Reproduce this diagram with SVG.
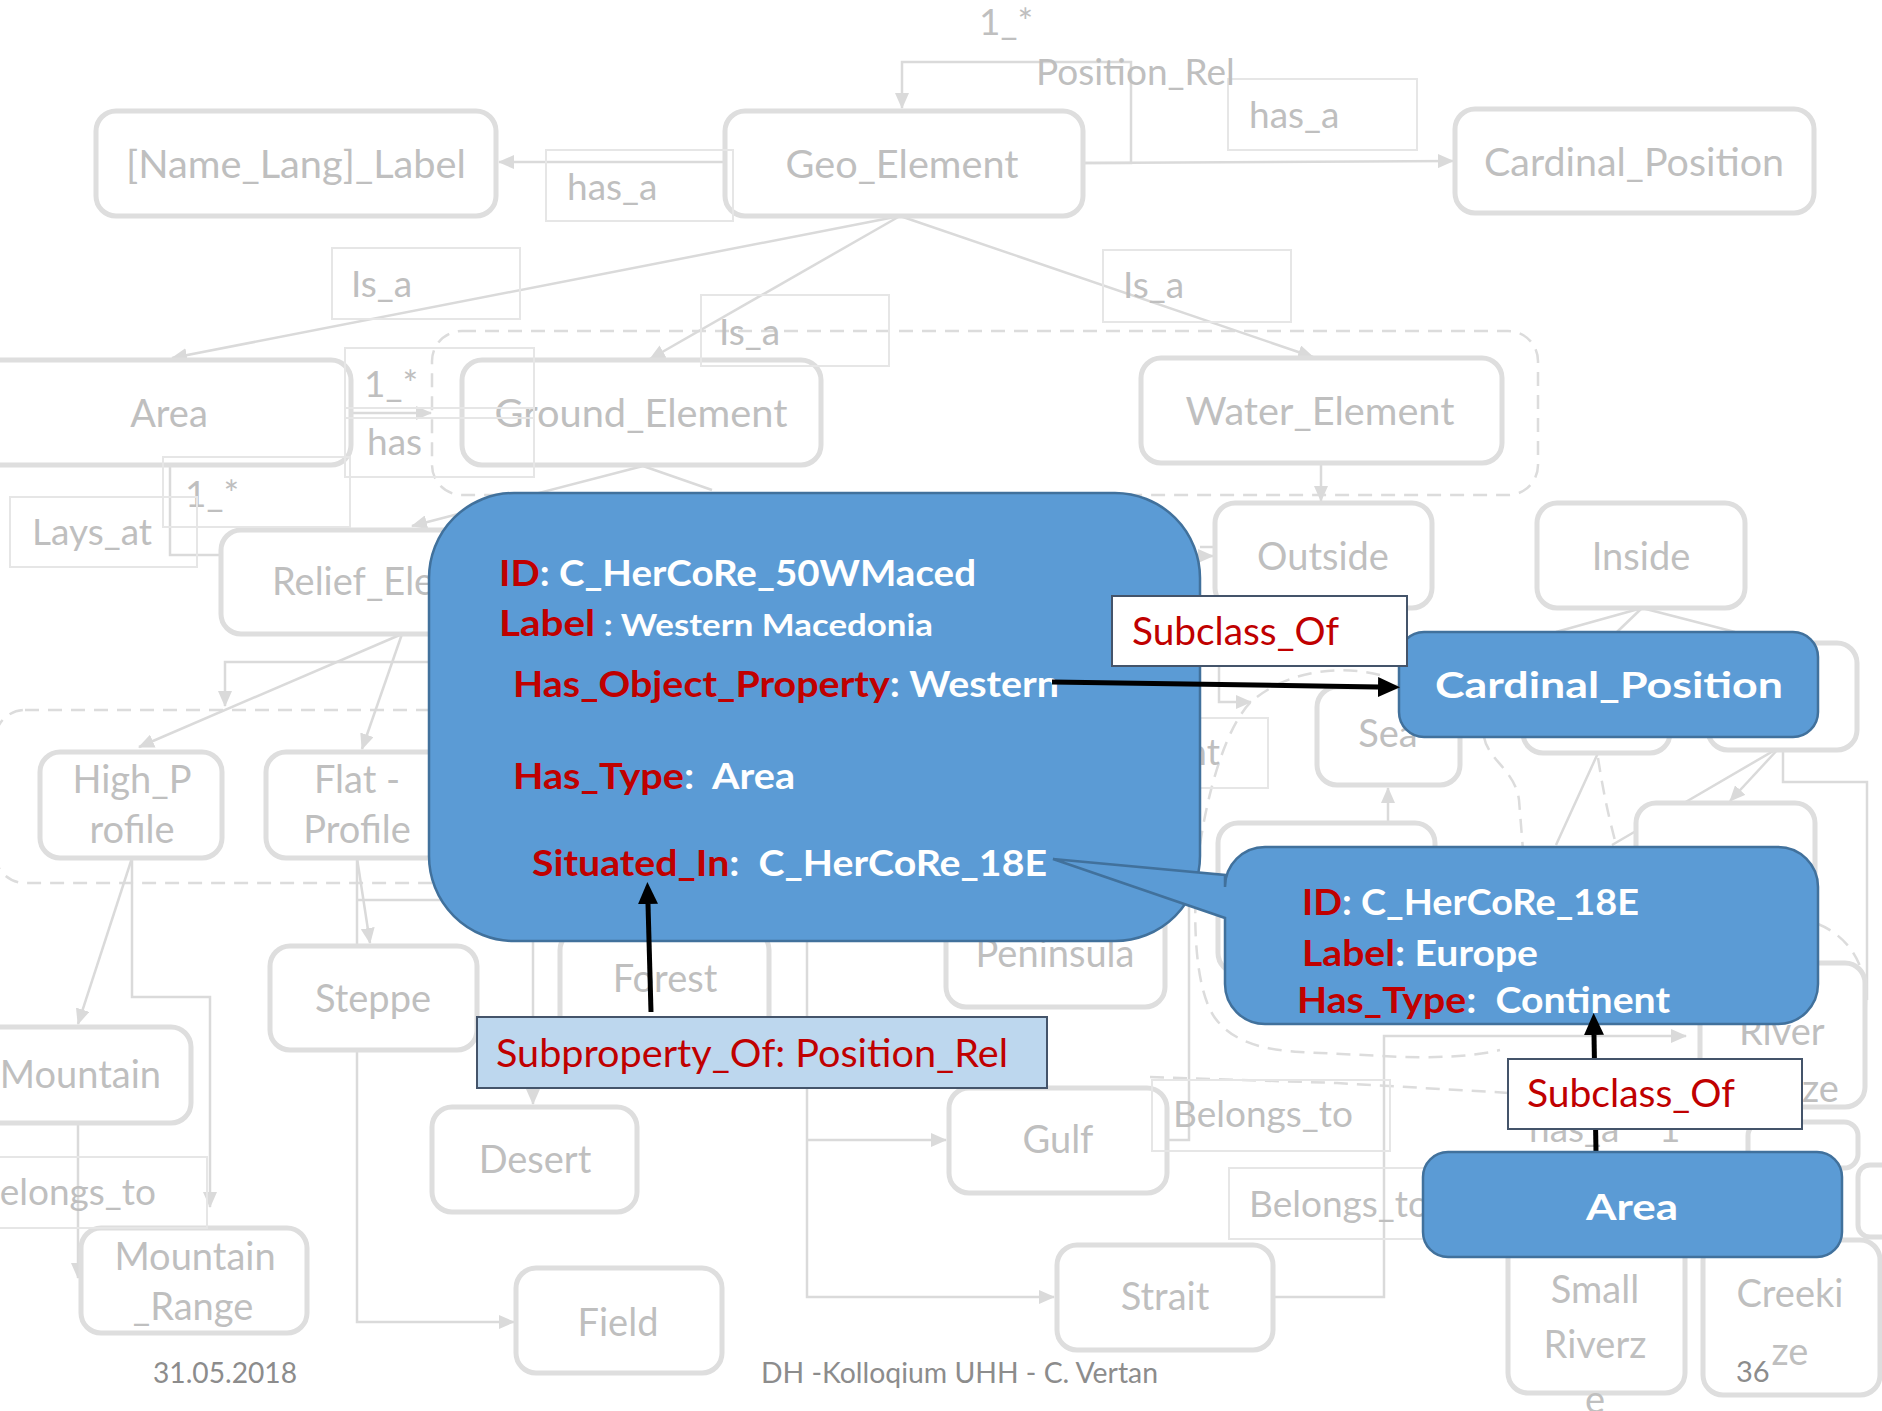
<svg xmlns="http://www.w3.org/2000/svg" width="1882" height="1411" viewBox="0 0 1882 1411">
<defs>
<style>
.n{fill:#fff;stroke:#dedede;stroke-width:5}
.nt{font-family:Lato,'Liberation Sans',sans-serif;font-size:38px;fill:#bfbfbf;text-anchor:middle}
.ns{font-family:Lato,'Liberation Sans',sans-serif;font-size:38px;fill:#bfbfbf}
.lb{fill:none;stroke:#e6e6e6;stroke-width:2}
.lt{font-family:Lato,'Liberation Sans',sans-serif;font-size:37px;fill:#bfbfbf}
.c{fill:none;stroke:#dadada;stroke-width:2.5}
.d{fill:none;stroke:#dcdcdc;stroke-width:2.5;stroke-dasharray:14 9}
.ft{font-family:Lato,'Liberation Sans',sans-serif;font-size:29px;fill:#8c8c8c}
.blue{fill:#5B9BD5;stroke:#41719C;stroke-width:2.5}
.bt{font-family:Lato,'Liberation Sans',sans-serif;font-weight:bold;font-size:36px;fill:#fff;white-space:pre}
.red{fill:#C00000}
.k{fill:none;stroke:#000;stroke-width:5}
.box{fill:#fff;stroke:#44546A;stroke-width:2}
.rt{font-family:Lato,'Liberation Sans',sans-serif;font-size:38px;fill:#C00000}
</style>
<marker id="ga" markerUnits="userSpaceOnUse" markerWidth="16" markerHeight="14" viewBox="0 0 16 14" refX="15" refY="7" orient="auto"><path d="M0 0 L16 7 L0 14 Z" fill="#dadada"/></marker>
<marker id="ka" markerUnits="userSpaceOnUse" markerWidth="22" markerHeight="20" viewBox="0 0 22 20" refX="0" refY="10" orient="auto"><path d="M0 0 L22 10 L0 20 Z" fill="#000"/></marker>
</defs>
<rect x="0" y="0" width="1882" height="1411" fill="#fff"/>

<g id="containers">
<rect class="d" x="432" y="331" width="1106" height="164" rx="30"/>
<rect class="d" x="-5" y="710" width="505" height="173" rx="30"/>
<path class="d" d="M1380 675 C1340 665 1290 670 1253 700 C1225 725 1205 800 1198 860 C1192 920 1195 990 1215 1018 C1235 1045 1270 1050 1300 1052 L1404 1057 C1450 1058 1480 1055 1500 1050"/>
<path class="d" d="M1150 1077 L1337 1083 L1510 1093"/>
<path class="d" d="M1484 737 C1488 760 1515 770 1519 800 L1523 850"/>
<path class="d" d="M1598 758 C1603 790 1608 815 1617 848"/>
<path class="d" d="M1818 924 C1845 935 1866 960 1866 1000 L1864 1075 C1862 1090 1855 1098 1840 1104"/>
</g>

<g id="connectors">
<path class="c" d="M1083 163 H1131 V62 H902 V108" marker-end="url(#ga)"/>
<path class="c" d="M1083 163 L1453 161" marker-end="url(#ga)"/>
<path class="c" d="M725 162 H499" marker-end="url(#ga)"/>
<path class="c" d="M900 216 L172 358" marker-end="url(#ga)"/>
<path class="c" d="M900 216 L650 359" marker-end="url(#ga)"/>
<path class="c" d="M900 216 L1313 357" marker-end="url(#ga)"/>
<path class="c" d="M351 413 H431" marker-end="url(#ga)"/>
<path class="c" d="M643 466 L412 526" marker-end="url(#ga)"/>
<path class="c" d="M643 466 L712 490"/>
<path class="c" d="M170 467 V555 H230"/>
<path class="c" d="M402 634 L139 747" marker-end="url(#ga)"/>
<path class="c" d="M402 634 L362 749" marker-end="url(#ga)"/>
<path class="c" d="M440 662 H225 V706" marker-end="url(#ga)"/>
<path class="c" d="M132 858 L78 1024" marker-end="url(#ga)"/>
<path class="c" d="M132 858 V997 H210 V1207" marker-end="url(#ga)"/>
<path class="c" d="M78 1123 V1278" marker-end="url(#ga)"/>
<path class="c" d="M357 858 L370 943" marker-end="url(#ga)"/>
<path class="c" d="M357 858 V1322 H514" marker-end="url(#ga)"/>
<path class="c" d="M357 900 H533 V1104" marker-end="url(#ga)"/>
<path class="c" d="M807 930 V1297 H1054" marker-end="url(#ga)"/>
<path class="c" d="M807 1140 H946" marker-end="url(#ga)"/>
<path class="c" d="M1134 953 H1167"/>
<path class="c" d="M1167 1140 H1189 V900"/>
<path class="c" d="M1273 1297 H1384 V1036 H1686" marker-end="url(#ga)"/>
<path class="c" d="M1388 845 V788" marker-end="url(#ga)"/>
<path class="c" d="M1321 463 V501" marker-end="url(#ga)"/>
<path class="c" d="M1190 556 H1213" marker-end="url(#ga)"/>
<path class="c" d="M1200 547 H1219 V702 H1251" marker-end="url(#ga)"/>
<path class="c" d="M1642 608 L1556 632 M1642 608 L1617 632 M1642 608 L1735 632"/>
<path class="c" d="M1598 753 L1556 845 M1780 747 L1612 845"/>
<path class="c" d="M1780 747 L1730 801" marker-end="url(#ga)"/>
<path class="c" d="M1783 747 V782 H1867 V1000"/>
</g>

<g id="node-name-label"><rect class="n" x="96" y="111" width="400" height="105" rx="20"/><text class="nt" x="296" y="178" textLength="340" lengthAdjust="spacingAndGlyphs">[Name_Lang]_Label</text></g>
<g id="node-geo-element"><rect class="n" x="725" y="111" width="358" height="105" rx="20"/><text class="nt" x="902" y="178" textLength="233" lengthAdjust="spacingAndGlyphs">Geo_Element</text></g>
<g id="node-cardinal-gray"><rect class="n" x="1455" y="109" width="359" height="104" rx="20"/><text class="nt" x="1634" y="176" textLength="300" lengthAdjust="spacingAndGlyphs">Cardinal_Position</text></g>
<g id="node-area-gray"><rect class="n" x="-20" y="360" width="371" height="105" rx="20"/><text class="nt" x="169" y="427">Area</text></g>
<g id="node-ground"><rect class="n" x="462" y="360" width="359" height="105" rx="20"/><text class="nt" x="641" y="427" textLength="293" lengthAdjust="spacingAndGlyphs">Ground_Element</text></g>
<g id="node-water"><rect class="n" x="1141" y="358" width="361" height="105" rx="20"/><text class="nt" x="1320" y="425" textLength="269" lengthAdjust="spacingAndGlyphs">Water_Element</text></g>
<g id="node-outside"><rect class="n" x="1215" y="503" width="217" height="105" rx="20"/><text class="nt" x="1323" y="570">Outside</text></g>
<g id="node-inside"><rect class="n" x="1537" y="503" width="208" height="105" rx="20"/><text class="nt" x="1641" y="570">Inside</text></g>
<g id="node-relief"><rect class="n" x="221" y="530" width="340" height="104" rx="20"/><text class="ns" x="272" y="595" font-size="36">Relief_Ele</text></g>
<g id="node-high"><rect class="n" x="40" y="752" width="182" height="106" rx="20"/><text class="nt" x="132" y="793">High_P</text><text class="nt" x="132" y="843">rofile</text></g>
<g id="node-flat"><rect class="n" x="266" y="752" width="210" height="106" rx="20"/><text class="nt" x="357" y="793">Flat -</text><text class="nt" x="357" y="843">Profile</text></g>
<g id="node-mountain"><rect class="n" x="-20" y="1027" width="211" height="96" rx="20"/><text class="nt" x="161" y="1088" style="text-anchor:end">Mountain</text></g>
<g id="node-mountain-range"><rect class="n" x="81" y="1228" width="226" height="105" rx="20"/><text class="nt" x="195" y="1270">Mountain</text><text class="nt" x="193" y="1320">_Range</text></g>
<g id="node-steppe"><rect class="n" x="270" y="946" width="207" height="104" rx="20"/><text class="nt" x="373" y="1012">Steppe</text></g>
<g id="node-desert"><rect class="n" x="432" y="1107" width="205" height="105" rx="20"/><text class="nt" x="535" y="1173">Desert</text></g>
<g id="node-field"><rect class="n" x="516" y="1268" width="206" height="105" rx="20"/><text class="nt" x="618" y="1336">Field</text></g>
<g id="node-forest"><rect class="n" x="560" y="930" width="209" height="125" rx="20"/><text class="nt" x="665" y="992">Forest</text></g>
<g id="node-peninsula"><rect class="n" x="946" y="900" width="219" height="107" rx="20"/><text class="nt" x="1055" y="967">Peninsula</text></g>
<g id="node-gulf"><rect class="n" x="949" y="1088" width="218" height="105" rx="20"/><text class="nt" x="1058" y="1153">Gulf</text></g>
<g id="node-strait"><rect class="n" x="1057" y="1245" width="216" height="105" rx="20"/><text class="nt" x="1165" y="1310">Strait</text></g>
<g id="node-sea"><rect class="n" x="1317" y="687" width="143" height="98" rx="20"/><text class="nt" x="1388" y="747">Sea</text></g>
<g id="node-b1"><rect class="n" x="1708" y="643" width="149" height="107" rx="20"/></g>
<g id="node-b2"><rect class="n" x="1523" y="640" width="147" height="113" rx="20"/></g>
<g id="node-b3"><rect class="n" x="1636" y="803" width="179" height="110" rx="20"/></g>
<g id="node-b4"><rect class="n" x="1218" y="823" width="217" height="150" rx="20"/></g>
<g id="node-river"><rect class="n" x="1700" y="963" width="165" height="144" rx="20"/><text class="ns" x="1739" y="1045">River</text><text class="ns" x="1802" y="1102">ze</text></g>
<g id="node-small-stack"><rect class="n" x="1748" y="1122" width="110" height="46" rx="14" stroke-width="3"/><rect class="n" x="1858" y="1165" width="40" height="72" rx="12" stroke-width="3"/></g>
<g id="node-small-riverze"><rect class="n" x="1508" y="1200" width="177" height="193" rx="20"/><text class="nt" x="1595" y="1303">Small</text><text class="nt" x="1595" y="1358">Riverz</text><text class="nt" x="1595" y="1413">e</text></g>
<g id="node-creekize"><rect class="n" x="1703" y="1240" width="177" height="155" rx="20"/><text class="nt" x="1790" y="1307">Creeki</text><text class="nt" x="1790" y="1365">ze</text></g>

<g id="labels">
<rect class="lb" x="546" y="150" width="187" height="71"/><text class="lt" x="567" y="200">has_a</text>
<rect class="lb" x="1228" y="79" width="189" height="71"/><text class="lt" x="1249" y="128">has_a</text>
<rect class="lb" x="332" y="248" width="188" height="71"/><text class="lt" x="351" y="297">Is_a</text>
<rect class="lb" x="701" y="295" width="188" height="71"/><text class="lt" x="719" y="345">Is_a</text>
<rect class="lb" x="1103" y="250" width="188" height="72"/><text class="lt" x="1123" y="298">Is_a</text>
<text class="lt" x="979" y="35">1_*</text>
<text class="lt" x="1036" y="85" font-size="33">Position_Rel</text>
<rect class="lb" x="345" y="348" width="189" height="129"/><rect class="lb" x="345" y="408" width="189" height="10"/>
<text class="lt" x="364" y="397">1_*</text><text class="lt" x="367" y="455">has</text>
<rect class="lb" x="163" y="457" width="187" height="70"/><text class="lt" x="185" y="507">1_*</text>
<rect class="lb" x="10" y="497" width="187" height="70"/><text class="lt" x="32" y="545">Lays_at</text>
<rect class="lb" x="-30" y="1157" width="237" height="71"/><text class="lt" x="156" y="1205" text-anchor="end">elongs_to</text>
<rect class="lb" x="1152" y="1080" width="238" height="71"/><text class="lt" x="1173" y="1127">Belongs_to</text>
<rect class="lb" x="1229" y="1168" width="210" height="71"/><text class="lt" x="1249" y="1217">Belongs_to</text>
<rect class="lb" x="1190" y="718" width="78" height="70"/><text class="lt" x="1220" y="765" text-anchor="end">nt</text>
<text class="lt" x="1529" y="1142">has_a</text><text class="lt" x="1659" y="1142">1</text>
</g>

<g id="footer">
<text class="ft" x="153" y="1383" textLength="144" lengthAdjust="spacingAndGlyphs">31.05.2018</text>
<text class="ft" x="761" y="1383" textLength="397" lengthAdjust="spacingAndGlyphs">DH -Kolloqium UHH - C. Vertan</text>
<text class="ft" x="1736" y="1382">36</text>
</g>

<g id="callout-western-macedonia">
<rect class="blue" x="429" y="493" width="771" height="448" rx="85"/>
<text class="bt" x="499" y="586" textLength="477" lengthAdjust="spacingAndGlyphs"><tspan class="red">ID</tspan>: C_HerCoRe_50WMaced</text>
<text class="bt" x="499" y="636" textLength="434" lengthAdjust="spacingAndGlyphs"><tspan class="red">Label</tspan><tspan font-size="31"> : Western Macedonia</tspan></text>
<text class="bt" x="513" y="697" textLength="546" lengthAdjust="spacingAndGlyphs"><tspan class="red">Has_Object_Property</tspan>: Western</text>
<text class="bt" x="513" y="789" textLength="282" lengthAdjust="spacingAndGlyphs"><tspan class="red">Has_Type</tspan>:  Area</text>
<text class="bt" x="532" y="876" textLength="515" lengthAdjust="spacingAndGlyphs"><tspan class="red">Situated_In</tspan>:  C_HerCoRe_18E</text>
</g>

<g id="callout-europe">
<path class="blue" d="M1265 847 H1778 A40 40 0 0 1 1818 887 V984 A40 40 0 0 1 1778 1024 H1265 A40 40 0 0 1 1225 984 V918 L1053 859 L1225 875 V887 A40 40 0 0 1 1265 847 Z"/>
<text class="bt" x="1302" y="915" textLength="337" lengthAdjust="spacingAndGlyphs"><tspan class="red">ID</tspan>: C_HerCoRe_18E</text>
<text class="bt" x="1302" y="966" textLength="236" lengthAdjust="spacingAndGlyphs"><tspan class="red">Label</tspan>: Europe</text>
<text class="bt" x="1297" y="1013" textLength="373" lengthAdjust="spacingAndGlyphs"><tspan class="red">Has_Type</tspan>:  Continent</text>
</g>

<g id="node-cardinal-position">
<rect class="blue" x="1399" y="632" width="419" height="105" rx="25"/>
<text class="bt" x="1435" y="698" font-size="41" textLength="348" lengthAdjust="spacingAndGlyphs">Cardinal_Position</text>
</g>

<g id="arrows">
<path class="k" d="M1052 682 L1378 687" marker-end="url(#ka)"/>
<path class="k" d="M651 1012 L648 904" marker-end="url(#ka)"/>
<path class="k" d="M1596 1152 L1594 1035" marker-end="url(#ka)"/>
</g>

<g id="label-subclass-top">
<rect class="box" x="1112" y="596" width="295" height="70"/>
<text class="rt" x="1132" y="645" textLength="207" lengthAdjust="spacingAndGlyphs">Subclass_Of</text>
</g>
<g id="label-subclass-bottom">
<rect class="box" x="1508" y="1059" width="294" height="70"/>
<text class="rt" x="1527" y="1107" textLength="208" lengthAdjust="spacingAndGlyphs">Subclass_Of</text>
</g>

<g id="node-area">
<rect class="blue" x="1423" y="1152" width="419" height="105" rx="25"/>
<text class="bt" x="1632" y="1220" font-size="40" text-anchor="middle" textLength="92" lengthAdjust="spacingAndGlyphs">Area</text>
</g>

<g id="label-subproperty">
<rect x="477" y="1017" width="570" height="71" fill="#BDD7EE" stroke="#44546A" stroke-width="2"/>
<text class="rt" x="496" y="1067" textLength="512" lengthAdjust="spacingAndGlyphs">Subproperty_Of: Position_Rel</text>
</g>
</svg>
